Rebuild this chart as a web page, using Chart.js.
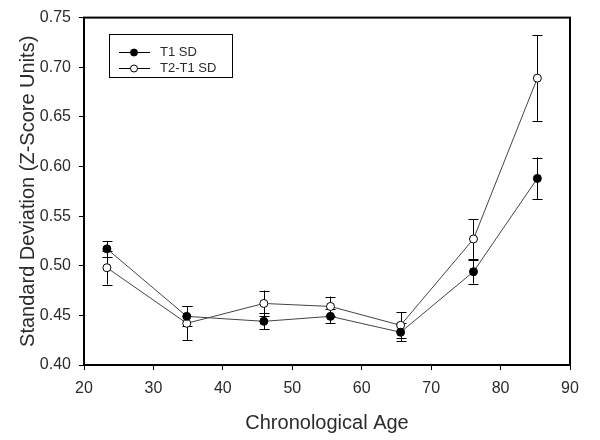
<!DOCTYPE html>
<html>
<head>
<meta charset="utf-8">
<script src="https://cdn.jsdelivr.net/npm/chart.js@4.4.0/dist/chart.umd.min.js"></script>
<style>
html,body{margin:0;padding:0;background:#fff;}
#wrap{width:600px;height:440px;}
</style>
</head>
<body>
<div id="wrap"><canvas id="c" width="600" height="440"></canvas></div>
<script>
const ages = [23.3, 34.8, 45.9, 55.5, 65.6, 76.1, 85.3];
const t1Values = [0.517, 0.449, 0.444, 0.449, 0.433, 0.494, 0.588];
const t1Errors = [0.008, 0.010, 0.008, 0.007, 0.009, 0.012, 0.021];
const t2Values = [0.498, 0.442, 0.462, 0.459, 0.440, 0.527, 0.689];
const t2Errors = [0.017, 0.017, 0.013, 0.010, 0.013, 0.020, 0.043];
const seriesLabels = ['T1 SD', 'T2-T1 SD'];
const xTitle = 'Chronological Age';
const yTitle = 'Standard Deviation (Z-Score Units)';

const textColor = '#2b2b2b';
const fontFamily = '"Liberation Sans", Arial, sans-serif';

function pts(vals){ return ages.map((a,i)=>({x:a, y:vals[i]})); }

const errorBarPlugin = {
  id: 'errorBars',
  beforeDatasetsDraw(chart){
    const ctx = chart.ctx, xs = chart.scales.x, ys = chart.scales.y;
    ctx.save();
    ctx.strokeStyle = '#000';
    ctx.lineWidth = 1;
    chart.data.datasets.forEach(ds=>{
      ds.data.forEach((p,i)=>{
        const e = ds.errors[i];
        const px = Math.round(xs.getPixelForValue(p.x)) + 0.5;
        const yt = ys.getPixelForValue(p.y + e);
        const yb = ys.getPixelForValue(p.y - e);
        ctx.beginPath();
        ctx.moveTo(px, yt); ctx.lineTo(px, yb);
        ctx.moveTo(px-5, Math.round(yt)+0.5); ctx.lineTo(px+5, Math.round(yt)+0.5);
        ctx.moveTo(px-5, Math.round(yb)+0.5); ctx.lineTo(px+5, Math.round(yb)+0.5);
        ctx.stroke();
      });
    });
    ctx.restore();
  }
};

const framePlugin = {
  id: 'frame',
  afterDraw(chart){
    const ctx = chart.ctx, a = chart.chartArea;
    ctx.save();
    ctx.strokeStyle = '#000';
    ctx.lineWidth = 2;
    ctx.strokeRect(a.left, a.top, a.right - a.left, a.bottom - a.top);
    // legend box
    const lx = 109, ly = 34, lw = 123, lh = 43;
    ctx.lineWidth = 1;
    ctx.strokeStyle = '#000';
    ctx.fillStyle = '#fff';
    ctx.fillRect(lx+0.5, ly+0.5, lw, lh);
    ctx.strokeRect(lx+0.5, ly+0.5, lw, lh);
    ctx.font = '13px ' + fontFamily;
    ctx.textBaseline = 'middle';
    chart.data.datasets.forEach((ds,i)=>{
      const y = ly + 18 + i*16 + 0.5;
      ctx.strokeStyle = '#000';
      ctx.beginPath(); ctx.moveTo(lx+10, y); ctx.lineTo(lx+41, y); ctx.stroke();
      ctx.beginPath(); ctx.arc(lx+25, y, 3.5, 0, Math.PI*2);
      ctx.fillStyle = ds.pointBackgroundColor; ctx.fill(); ctx.stroke();
      ctx.fillStyle = textColor;
      ctx.fillText(ds.label, lx+51, y);
    });
    ctx.restore();
  }
};

new Chart(document.getElementById('c'), {
  type: 'scatter',
  data: {
    datasets: [
      { label: seriesLabels[0], data: pts(t1Values), errors: t1Errors, showLine: true,
        borderColor: '#444', borderWidth: 1, pointBackgroundColor: '#000', pointBorderColor: '#000',
        pointRadius: 4, pointBorderWidth: 1 },
      { label: seriesLabels[1], data: pts(t2Values), errors: t2Errors, showLine: true,
        borderColor: '#444', borderWidth: 1, pointBackgroundColor: '#fff', pointBorderColor: '#000',
        pointRadius: 4, pointBorderWidth: 1 }
    ]
  },
  options: {
    responsive: false,
    animation: false,
    layout: { padding: { left: 0, right: 30, top: 15, bottom: 0 } },
    plugins: { legend: { display: false }, tooltip: { enabled: false } },
    scales: {
      x: {
        type: 'linear', min: 20, max: 90,
        ticks: { stepSize: 10, color: textColor, font: { size: 16, family: fontFamily }, padding: 9 },
        grid: { drawOnChartArea: false, drawTicks: true, tickLength: 5, color: '#000', lineWidth: 1 },
        border: { display: true, color: '#000', width: 2 },
        title: { display: true, text: xTitle, color: textColor, font: { size: 20, family: fontFamily }, padding: { top: 0, bottom: 5 } },
        afterFit(s){ s.height = 75; }
      },
      y: {
        min: 0.40, max: 0.75,
        ticks: { stepSize: 0.05, color: textColor, font: { size: 16, family: fontFamily }, padding: 8,
          callback: v => v.toFixed(2) },
        grid: { drawOnChartArea: false, drawTicks: true, tickLength: 5, color: '#000', lineWidth: 1 },
        border: { display: true, color: '#000', width: 2 },
        title: { display: true, text: yTitle, color: textColor, font: { size: 20, family: fontFamily }, padding: { top: 16, bottom: 0 } },
        afterFit(s){ s.width = 84; }
      }
    }
  },
  plugins: [errorBarPlugin, framePlugin]
});
</script>
</body>
</html>
